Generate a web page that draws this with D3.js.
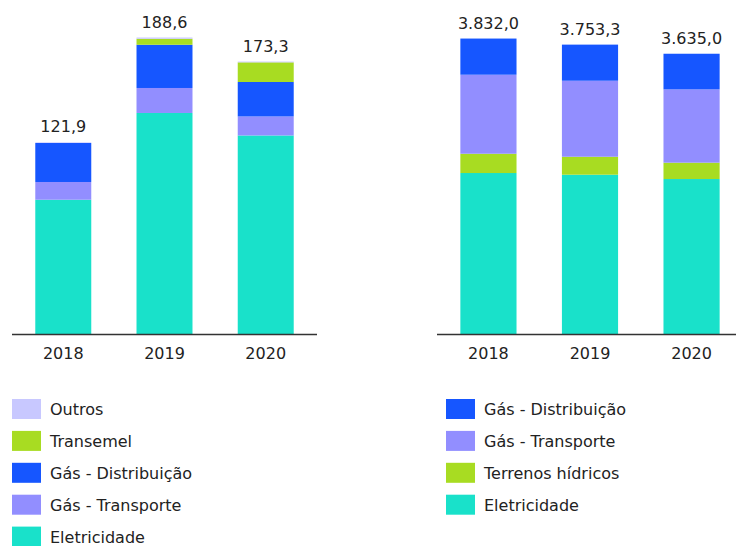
<!DOCTYPE html>
<html lang="pt">
<head>
<meta charset="UTF-8">
<title>Stacked bars</title>
<script src="https://cdn.jsdelivr.net/npm/d3@7"></script>
<style>
  body { margin: 0; background: #fff; }
  text { font-family: "DejaVu Sans", sans-serif; fill: #222; }
</style>
</head>
<body>
<script>
// data
var years = ["2018", "2019", "2020"];

// left chart (bottom to top)
var leftNames = ["Eletricidade", "Gás - Transporte", "Gás - Distribuição", "Transemel", "Outros"];
var leftEletricidade = [85.4, 140.6, 126.3];
var leftGasTransporte = [11.3, 15.9, 12.1];
var leftGasDistribuicao = [24.8, 27.5, 21.9];
var leftTransemel = [0, 3.8, 12.5];
var leftOutros = [0.4, 0.8, 0.5];

// right chart (bottom to top)
var rightNames = ["Eletricidade", "Terrenos hídricos", "Gás - Transporte", "Gás - Distribuição"];
var rightEletricidade = [2088, 2066, 2010];
var rightTerrenos = [250, 233, 212];
var rightGasTransporte = [1025, 986, 951];
var rightGasDistribuicao = [469, 468.3, 462];

var colors = {
  "Eletricidade": "#19e1ca",
  "Gás - Transporte": "#928eff",
  "Gás - Distribuição": "#1656ff",
  "Transemel": "#a8dc22",
  "Terrenos hídricos": "#a8dc22",
  "Outros": "#c8c8ff"
};

var width = 736, height = 546;
var baseY = 334;

var pt = d3.formatLocale({ decimal: ",", thousands: ".", grouping: [3], currency: ["", ""] });
var fmt = pt.format(",.1f");

var svg = d3.select("body").append("svg")
  .attr("width", width).attr("height", height);

function buildRows(names, series) {
  return years.map(function(y, i) {
    var row = { year: y };
    names.forEach(function(n, j) { row[n] = series[j][i]; });
    return row;
  });
}

function drawChart(names, series, xRange, yMax, topY, axisEnd) {
  var rows = buildRows(names, series);

  var x = d3.scaleBand()
    .domain(years)
    .range(xRange)
    .paddingInner(0.447)
    .paddingOuter(0.23);

  var y = d3.scaleLinear()
    .domain([0, yMax])
    .range([baseY, topY]);

  var stack = d3.stack().keys(names);
  var layers = stack(rows);

  var g = svg.append("g");

  g.selectAll(".layer")
    .data(layers)
    .enter().append("g")
    .attr("class", "layer")
    .attr("fill", function(d) { return colors[d.key]; })
    .selectAll("rect")
    .data(function(d) { return d; })
    .enter().append("rect")
    .attr("x", function(d) { return x(d.data.year); })
    .attr("width", x.bandwidth())
    .attr("y", function(d) { return y(d[1]); })
    .attr("height", function(d) { return y(d[0]) - y(d[1]); });

  // totals
  g.selectAll(".total")
    .data(rows)
    .enter().append("text")
    .attr("class", "total")
    .attr("x", function(d) { return x(d.year) + x.bandwidth() / 2; })
    .attr("y", function(d) {
      var s = d3.sum(names, function(n) { return d[n]; });
      return y(s) - 10;
    })
    .attr("text-anchor", "middle")
    .attr("font-size", "16px")
    .text(function(d) { return fmt(d3.sum(names, function(n) { return d[n]; })); });

  // axis
  var axis = g.append("g")
    .attr("transform", "translate(0," + baseY + ")")
    .call(d3.axisBottom(x).tickSize(0).tickPadding(14));
  axis.select(".domain").remove();
  axis.selectAll("text")
    .attr("font-size", "16px")
    .style("font-family", "DejaVu Sans, sans-serif")
    .attr("fill", "#222");

  g.append("line")
    .attr("x1", xRange[0]).attr("x2", axisEnd)
    .attr("y1", baseY + 0.5).attr("y2", baseY + 0.5)
    .attr("stroke", "#333")
    .attr("stroke-width", 1.5);
}

drawChart(leftNames,
  [leftEletricidade, leftGasTransporte, leftGasDistribuicao, leftTransemel, leftOutros],
  [12, 317], 190, baseY - 190 * 1.572, 317);

drawChart(rightNames,
  [rightEletricidade, rightTerrenos, rightGasTransporte, rightGasDistribuicao],
  [437, 743], 4000, baseY - 4000 * 0.0771, 736);

// legends
function drawLegend(items, x0, y0) {
  var lg = svg.append("g").attr("transform", "translate(" + x0 + "," + y0 + ")");
  var item = lg.selectAll(".item")
    .data(items)
    .enter().append("g")
    .attr("transform", function(d, i) { return "translate(0," + (i * 31.9) + ")"; });
  item.append("rect")
    .attr("width", 29).attr("height", 20)
    .attr("y", -10)
    .attr("fill", function(d) { return colors[d]; });
  item.append("text")
    .attr("x", 38)
    .attr("y", 6)
    .attr("font-size", "16px")
    .text(function(d) { return d; });
}

drawLegend(leftNames.slice().reverse(), 12, 409);
drawLegend(rightNames.slice().reverse(), 446, 409);
</script>
</body>
</html>
